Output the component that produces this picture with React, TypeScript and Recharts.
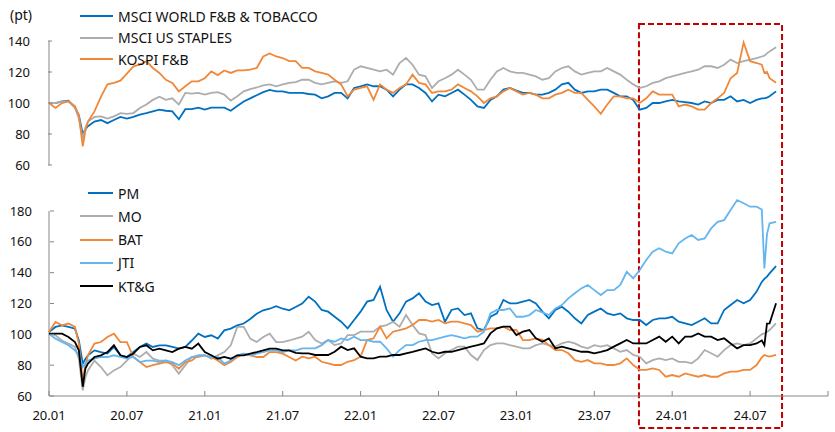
import React from 'react';
import { LineChart, Line, XAxis, YAxis, ReferenceLine, ReferenceArea } from 'recharts';

// time axis: months since 2020-01
const months = [
  0, 0.5, 1, 1.5, 2, 2.3, 2.6, 2.8,
  3, 3.5, 4, 4.5, 5, 5.5, 6, 6.5, 7, 7.5, 8, 8.5,
  9, 9.5, 10, 10.5, 11, 11.5, 12, 12.5, 13, 13.5, 14, 14.5,
  15, 15.5, 16, 16.5, 17, 17.5, 18, 18.5, 19, 19.5, 20, 20.5,
  21, 21.5, 22, 22.5, 23, 23.5, 24, 24.5, 25, 25.5, 26, 26.5,
  27, 27.5, 28, 28.5, 29, 29.5, 30, 30.5, 31, 31.5, 32, 32.5,
  33, 33.5, 34, 34.5, 35, 35.5, 36, 36.5, 37, 37.5, 38, 38.5,
  39, 39.5, 40, 40.5, 41, 41.5, 42, 42.5, 43, 43.5, 44, 44.5,
  45, 45.5, 46, 46.5, 47, 47.5, 48, 48.5, 49, 49.5, 50, 50.5,
  51, 51.5, 52, 52.5, 53, 53.5, 54, 54.5,
  54.9, 55.1, 55.3, 55.5, 56,
];

// top panel
const worldFB = [
  100, 100, 101, 101.5, 97, 92, 80, 83,
  85, 88, 89, 87, 89, 91, 90, 91, 92.5, 93.5, 94.6, 95.7,
  95, 94.6, 89.5, 96, 96, 97, 95.7, 97, 97, 97, 95, 98,
  101, 103, 105, 107, 108.4, 107.5, 107.5, 106.5, 106.5, 106.5, 105.8, 105.4,
  103, 104.3, 106.5, 106.5, 103, 109.7, 110.8, 112, 110.8, 110.8, 108.6, 104.3,
  108.6, 112, 112, 109.7, 106.5, 101, 105.4, 104.3, 106.5, 108.6, 105.4, 102,
  97.8, 96.8, 102, 104.3, 108.6, 109.7, 108, 106.5, 106.5, 105.4, 105.4, 106.5,
  108.6, 112, 113, 108.6, 106.5, 107.5, 107.5, 108.6, 108.6, 106.5, 104.3, 104.3,
  102, 95.7, 96.8, 100, 100, 101, 102, 101, 100.6, 100, 99, 101,
  100, 102, 102, 104.3, 101, 102, 100, 102,
  103, 103, 103.5, 104.3, 107.5,
];
const usStaples = [
  100, 100, 101, 101, 97, 90, 77, 84,
  88, 91, 91.4, 90, 91.4, 93.5, 93, 93.5, 96.8, 99, 102, 104,
  102, 103, 99, 106.5, 106, 106.5, 105.4, 106.5, 107, 105.4, 101.5, 104.3,
  107.5, 109, 110, 111.4, 112, 110.8, 112, 113, 113.5, 115, 115, 113,
  112, 113, 114, 113, 114, 121.5, 123.7, 122.6, 121.5, 120.4, 121.5, 118.3,
  125.8, 129, 124.7, 118.3, 117.2, 109.7, 114, 116, 118.3, 121.5, 118.3, 115,
  108.6, 108.6, 115, 120.4, 122.6, 120.4, 119.4, 119.4, 118.3, 117.2, 115, 116,
  120.4, 122.6, 123.7, 120.4, 118.3, 119.4, 120.4, 120.4, 122.6, 120.4, 118.3, 115,
  112, 109.7, 110.8, 113, 114, 116, 117.2, 118.3, 119.4, 120.4, 121.5, 123.7,
  123.7, 122.6, 124.7, 128, 125.8, 127, 128, 129,
  130, 130.5, 132, 133.3, 136,
];
const kospiFB = [
  100, 96.8, 100, 101, 98, 92, 72, 82,
  88, 94.6, 104, 112, 113, 114.4, 119, 123.6, 124.7, 127, 122.6, 119.4,
  115, 113, 107.5, 110.8, 114, 114, 116, 120.4, 118, 121, 119.4, 121,
  121, 121.5, 122.6, 130, 132, 130, 129, 127, 127, 122.6, 122.6, 120.4,
  119.4, 118.3, 115, 112, 104.3, 108.6, 109.7, 110.8, 102, 112, 108.6, 106.5,
  109.7, 112, 118.3, 113, 112, 106.5, 107.5, 107.5, 108.6, 112, 109.7, 107.5,
  104.3, 100, 103, 104.3, 107.5, 109.7, 107.5, 105.4, 106.5, 105.4, 103, 103,
  105.4, 106.5, 108.6, 106.5, 106.5, 102, 97.8, 93, 99, 104.3, 104.3, 103,
  103, 100, 103, 107.5, 105.4, 105.4, 105.4, 97.8, 99, 97.8, 95.7, 95.7,
  100, 103, 106.5, 116, 119.4, 139, 127, 125.8,
  124.7, 119.4, 120, 116, 113,
];

// bottom panel
const pm = [
  101.5, 104.8, 105.8, 104.8, 103.7, 96, 81, 84,
  86.4, 89.6, 88.5, 87.5, 91.8, 86.4, 85.3, 88.5, 91.8, 94, 91.8, 92.9,
  92.9, 91.8, 90.7, 91.8, 96, 100.4, 98.3, 99.4, 97.2, 102.6, 103.7, 105.8,
  107, 110, 113.4, 115.6, 116.6, 118.2, 116.6, 115.6, 117.7, 120, 124.4, 121.2,
  115.8, 114.7, 111.4, 108.2, 103.9, 109.3, 114.7, 121.2, 122.3, 130.9, 115.8, 108.2,
  113.6, 121.2, 123.3, 126.6, 121.2, 119, 120.1, 108.2, 115.8, 116.8, 112.5, 113.6,
  103.9, 102.8, 111.4, 113.6, 122.3, 120.1, 120.1, 121.2, 122.3, 120.1, 114.7, 110.4,
  115.8, 117.9, 114.7, 110.4, 107.1, 112.5, 114.7, 116.8, 113.6, 112.5, 113.6, 110.4,
  109.3, 109.3, 106, 109.3, 110.4, 110.4, 111.4, 108.2, 107.1, 106, 108.2, 110.4,
  107.1, 107.1, 115.8, 119, 122.3, 120.1, 122.3, 127.7,
  134, 136, 137.4, 139.5, 144.3,
];
const mo = [
  100.4, 99.4, 96, 94, 91.8, 84, 63.7, 72,
  76.6, 83, 78.8, 73.4, 76.6, 78.8, 83, 87.5, 85.3, 88.5, 84.2, 83,
  83, 80, 74.5, 80, 85.3, 85.3, 86.4, 84.2, 86.4, 88.5, 92.9, 104.8,
  104.8, 97.2, 95, 98.3, 100.4, 95, 95, 96, 97.2, 98.5, 101.7, 96.3,
  94.1, 96.3, 93, 94.1, 99.5, 99.5, 101.7, 101.7, 101.7, 105, 106, 108.2,
  105, 112.5, 106, 100.6, 99.5, 87.7, 84.4, 87.7, 89.8, 92, 92, 86.6,
  83.3, 89.8, 93, 94.1, 94.1, 93, 92, 90.9, 90.9, 93, 94.1, 93,
  92, 94.1, 95.2, 94.1, 92, 90.9, 93, 92, 93, 90.9, 88.7, 89.8,
  86.6, 85.5, 81.2, 83.3, 84.4, 83.3, 84.4, 82.2, 82.2, 81.2, 84.4, 89.8,
  87.7, 85.5, 89.8, 93, 94.1, 93, 94.1, 97.4,
  100, 100.6, 101.5, 102.8, 107.1,
];
const bat = [
  101.5, 108, 105.8, 107, 104.8, 94, 70.2, 80,
  86.4, 94, 95, 98.3, 100.4, 95, 95, 85.3, 82, 78.8, 80, 81,
  82, 81, 77.7, 82, 83, 86.4, 86.4, 85.3, 83, 80, 82, 85.3,
  87.5, 86.4, 85.3, 85.3, 88.5, 88.5, 87.5, 85.3, 83, 85.5, 84.4, 85.5,
  82.2, 81.2, 80.1, 80.1, 82.2, 83.3, 85.5, 96.3, 97.4, 105, 97.4, 101.7,
  102.8, 103.9, 106, 109.3, 109.3, 108.2, 109.3, 107.1, 108.2, 108.2, 107.1, 106,
  101.7, 102.8, 103.9, 103.9, 105, 102.8, 102.8, 96.3, 96.3, 97.4, 96.5, 93,
  89.8, 89.8, 87.7, 83.3, 82.2, 83.3, 81.2, 81.2, 80.1, 80.1, 81.2, 84.4,
  80.1, 76.9, 76.9, 77.9, 76.9, 72.5, 73.6, 72.5, 74.7, 73.6, 72.5, 73.6,
  72.5, 72.5, 74.7, 75.8, 75.8, 76.9, 76.9, 80.1,
  85, 86.6, 86, 85.5, 86.6,
];
const jti = [
  100.4, 97.2, 95, 92.9, 89.6, 86.4, 78.8, 81,
  83, 84.2, 85.3, 85.3, 86.4, 85.3, 84.2, 85.3, 82, 83, 83, 82,
  83, 82, 80, 83, 85.3, 86.4, 86.4, 85.3, 85.3, 81, 83, 86.4,
  87.5, 86.4, 87.5, 88.5, 89.6, 89.6, 88.5, 89.6, 89.5, 90.9, 90.9, 90.9,
  93, 96.3, 95.2, 97.4, 96.3, 98.5, 96.3, 96.3, 95.2, 95.2, 90.9, 85.5,
  89.8, 93, 93, 95.2, 96.3, 96.3, 97.4, 98.5, 99.5, 98.5, 97.4, 98.5,
  98.5, 101.7, 113.6, 115.8, 115.8, 116.8, 111.4, 111.4, 112.5, 115.8, 114.2, 112.5,
  116.8, 119, 123.3, 126.6, 129.8, 132, 128.7, 125.5, 128.7, 128.7, 132, 140.6,
  136.3, 141.7, 148.2, 153.6, 155.8, 153.6, 152.5, 159, 162.2, 164.4, 161.2, 162.2,
  168.7, 173, 174.1, 180.6, 187.1, 185, 182.8, 182.8,
  181, 142.8, 165, 172, 173,
];
const ktg = [
  100.4, 100.4, 100.4, 98.3, 95, 89.6, 66, 77.7,
  81, 85.3, 86.4, 88.5, 92.9, 86.4, 85.3, 87.5, 91.8, 92.9, 89.6, 90.7,
  89.6, 88.5, 90.7, 91.8, 90.7, 94, 88.5, 86.4, 84.2, 85.3, 84.2, 86.4,
  86.4, 87.5, 88.5, 89.6, 90.7, 90.7, 89.6, 89.6, 88, 87.7, 87.7, 86.6,
  86.6, 86.6, 88.7, 92, 89.8, 90.9, 85.5, 84.4, 84.4, 85.5, 85.5, 86.6,
  86.6, 87.7, 88.7, 89.8, 90.9, 88.7, 87.7, 88.7, 88.7, 89.8, 90.9, 92,
  93, 94.1, 100.6, 103.9, 105, 105, 99.5, 101.7, 102.8, 97.4, 95.2, 97.4,
  90.9, 92, 90.9, 89.8, 88.7, 88.7, 87.7, 88.7, 89.8, 92, 94.1, 96.3,
  94.1, 94.1, 94.1, 96.3, 98.5, 95.2, 98.5, 94.1, 98.5, 98.5, 100.6, 98.5,
  98.5, 96.3, 97.4, 94.1, 90.9, 93, 93, 94.1,
  96, 93, 107, 107.1, 120.1,
];

const xTicks = [0, 6, 12, 18, 24, 30, 36, 42, 48, 54, 60];
const xTickLabels = ['20.01', '20.07', '21.01', '21.07', '22.01', '22.07', '23.01', '23.07', '24.01', '24.07', ''];
const topTicks = [60, 80, 100, 120, 140];
const bottomTicks = [60, 80, 100, 120, 140, 160, 180];

const topSeries = [
  { key: 'worldFB', name: 'MSCI WORLD F&B & TOBACCO', color: '#0070C0', values: worldFB },
  { key: 'usStaples', name: 'MSCI US STAPLES', color: '#ADADAD', values: usStaples },
  { key: 'kospiFB', name: 'KOSPI F&B', color: '#F0883A', values: kospiFB },
];
const bottomSeries = [
  { key: 'pm', name: 'PM', color: '#0070C0', values: pm },
  { key: 'mo', name: 'MO', color: '#ADADAD', values: mo },
  { key: 'bat', name: 'BAT', color: '#F0883A', values: bat },
  { key: 'jti', name: 'JTI', color: '#64B5F0', values: jti },
  { key: 'ktg', name: 'KT&G', color: '#000000', values: ktg },
];

const table = months.map((m, i) => {
  const row: Record<string, number> = { m };
  [...topSeries, ...bottomSeries].forEach((s) => {
    row[s.key] = s.values[i];
  });
  return row;
});

// highlight window (months) and vertical reach (bottom-axis units)
const highlight = { x1: 45.44, x2: 56.46, y1: 39.2, y2: 301.3 };

const FONT = '"Noto Sans", "Open Sans", sans-serif';
const AXIS = '#868686';
const TEXT = '#111';

const YTick = (props: any) => {
  const { x, y, payload, shift = 0 } = props;
  const ax = x + shift;
  return (
    <g>
      <line x1={ax} x2={ax + 4} y1={y} y2={y} stroke={AXIS} strokeWidth={1} />
      <text x={ax - 18} y={y} dy={4.6} textAnchor="end" fontSize={13} fill={TEXT} fontFamily={FONT}>
        {payload.value}
      </text>
    </g>
  );
};

const XTick = (props: any) => {
  const { x, y, index } = props;
  return (
    <g>
      <line x1={x} x2={x} y1={y} y2={y - 5} stroke={AXIS} strokeWidth={1} />
      <text x={x} y={y + 24} textAnchor="middle" fontSize={13} fill={TEXT} fontFamily={FONT}>
        {xTickLabels[index] ?? ''}
      </text>
    </g>
  );
};

const LegendBlock = ({ items, top, gap, lineStarts }: { items: any[]; top: number; gap: number; lineStarts: number[] }) => (
  <>
    {items.map((s, i) => (
      <div
        key={s.key}
        style={{
          position: 'absolute',
          left: lineStarts[i],
          top: top + i * gap - 10,
          height: 20,
          display: 'flex',
          alignItems: 'center',
          fontFamily: FONT,
          fontSize: 14,
          color: TEXT,
          whiteSpace: 'nowrap',
        }}
      >
        <div style={{ width: 113 - lineStarts[i], height: 2, background: s.color, marginRight: 5 }} />
        <span>{s.name}</span>
      </div>
    ))}
  </>
);

export default function App() {
  return (
    <div style={{ position: 'absolute', left: 0, top: 0, width: 835, height: 432, background: '#fff' }}>
      <LineChart width={835} height={432} data={table} margin={{ top: 41, right: 7, bottom: 6, left: 47 }}>
        <XAxis
          dataKey="m"
          type="number"
          domain={[0, 60]}
          ticks={xTicks}
          interval={0}
          height={30}
          tickSize={0}
          tickMargin={0}
          tickLine={false}
          axisLine={{ stroke: AXIS }}
          tick={<XTick />}
        />
        <YAxis
          yAxisId="top"
          type="number"
          domain={[-89.03, 140]}
          ticks={topTicks}
          interval={0}
          width={1}
          tickSize={0}
          tickMargin={0}
          axisLine={false}
          tickLine={false}
          tick={<YTick shift={0} />}
        />
        <YAxis
          yAxisId="bottom"
          type="number"
          domain={[60, 290.27]}
          ticks={bottomTicks}
          interval={0}
          width={1}
          tickSize={0}
          tickMargin={0}
          axisLine={false}
          tickLine={false}
          tick={<YTick shift={1} />}
        />
        <ReferenceLine yAxisId="top" segment={[{ x: 0, y: 60 }, { x: 0, y: 140 }]} stroke={AXIS} strokeWidth={1} ifOverflow="visible" />
        <ReferenceLine yAxisId="bottom" segment={[{ x: 0, y: 60 }, { x: 0, y: 180 }]} stroke={AXIS} strokeWidth={1} ifOverflow="visible" />
        {topSeries.map((s) => (
          <Line
            key={s.key}
            yAxisId="top"
            dataKey={s.key}
            name={s.name}
            type="linear"
            stroke={s.color}
            strokeWidth={1.8}
            dot={false}
            activeDot={false}
            isAnimationActive={false}
          />
        ))}
        {bottomSeries.map((s) => (
          <Line
            key={s.key}
            yAxisId="bottom"
            dataKey={s.key}
            name={s.name}
            type="linear"
            stroke={s.color}
            strokeWidth={1.8}
            dot={false}
            activeDot={false}
            isAnimationActive={false}
          />
        ))}
        <ReferenceArea
          yAxisId="bottom"
          x1={highlight.x1}
          x2={highlight.x2}
          y1={highlight.y1}
          y2={highlight.y2}
          ifOverflow="visible"
          fill="none"
          fillOpacity={0}
          stroke="#C00000"
          strokeWidth={2}
          strokeDasharray="6 3"
        />
      </LineChart>
      <div style={{ position: 'absolute', left: 10, top: 5, fontFamily: FONT, fontSize: 14, color: TEXT }}>(pt)</div>
      <LegendBlock items={topSeries} top={16} gap={21.7} lineStarts={[80, 80, 80]} />
      <LegendBlock items={bottomSeries} top={193} gap={23.3} lineStarts={[88, 80, 80, 80, 80]} />
    </div>
  );
}
